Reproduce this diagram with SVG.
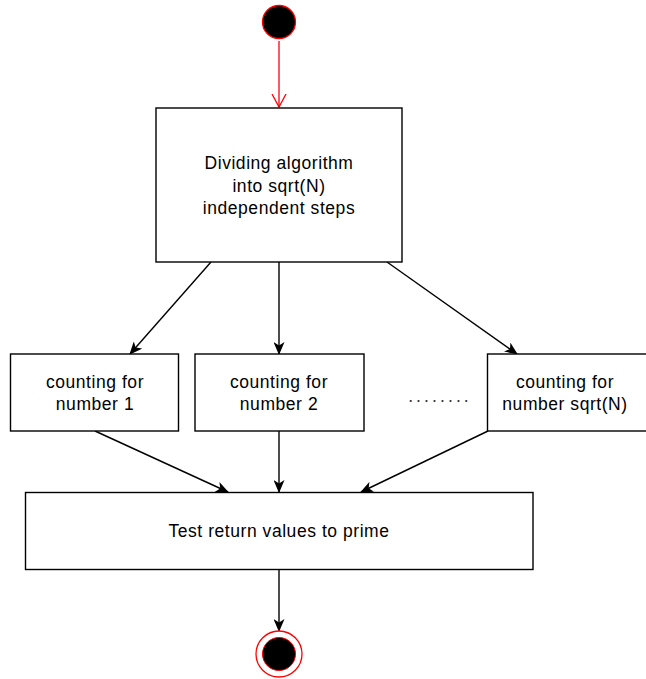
<svg xmlns="http://www.w3.org/2000/svg" width="646" height="679" viewBox="0 0 646 679">
  <defs>
    <marker id="arrow" viewBox="0 0 13 11" refX="12" refY="5.5" markerWidth="13" markerHeight="11" markerUnits="userSpaceOnUse" orient="auto">
      <path d="M0,0 L13,5.5 L0,11 L3.5,5.5 Z" fill="#000"/>
    </marker>
    <marker id="open" viewBox="0 0 14 16" refX="13" refY="8" markerWidth="14" markerHeight="16" markerUnits="userSpaceOnUse" orient="auto">
      <path d="M0,1 L13,8 L0,15" fill="none" stroke="#f00" stroke-width="1.3"/>
    </marker>
  </defs>
  <style>
    .box { fill: #fff; stroke: #000; stroke-width: 1.4; }
    .edge { fill: none; stroke: #000; stroke-width: 1.4; marker-end: url(#arrow); }
    .lbl { font-family: "Liberation Sans", Arial, Helvetica, sans-serif; font-size: 17.5px; letter-spacing: 0.55px; fill: #000; text-anchor: middle; }
    .dots { letter-spacing: 3.1px; fill: #333; }
  </style>
  <rect width="646" height="679" fill="#fff"/>

  <g id="edges">
    <path d="M279,41 L279,107" fill="none" stroke="#f00" stroke-width="1.3" marker-end="url(#open)"/>
    <path class="edge" d="M211,262 L130,354"/>
    <path class="edge" d="M279,262 L279,354"/>
    <path class="edge" d="M387,262 L517,354"/>
    <path class="edge" d="M95,431 L228,492"/>
    <path class="edge" d="M279,431 L279,492"/>
    <path class="edge" d="M488,431 L361,492"/>
    <path class="edge" d="M279,569 L279,631"/>
  </g>

  <g id="start">
    <circle cx="279" cy="22" r="16.5" fill="#000" stroke="#f00" stroke-width="1.3"/>
  </g>

  <g id="divide">
    <rect class="box" x="156" y="108" width="246" height="154"/>
    <text class="lbl" x="279" y="169">Dividing algorithm</text>
    <text class="lbl" x="279" y="192">into sqrt(N)</text>
    <text class="lbl" x="279" y="214">independent steps</text>
  </g>

  <g id="count1">
    <rect class="box" x="10.5" y="354" width="168" height="77"/>
    <text class="lbl" x="95" y="388">counting for</text>
    <text class="lbl" x="95" y="410">number 1</text>
  </g>

  <g id="count2">
    <rect class="box" x="195" y="354" width="169" height="77"/>
    <text class="lbl" x="279" y="388">counting for</text>
    <text class="lbl" x="279" y="410">number 2</text>
  </g>

  <g id="ellipsis">
    <text class="lbl dots" x="440" y="402">........</text>
  </g>

  <g id="countN">
    <rect class="box" x="487.5" y="354" width="169" height="77"/>
    <text class="lbl" x="565" y="388">counting for</text>
    <text class="lbl" x="565" y="410">number sqrt(N)</text>
  </g>

  <g id="test">
    <rect class="box" x="25.5" y="492.5" width="507.5" height="77"/>
    <text class="lbl" x="279" y="537">Test return values to prime</text>
  </g>

  <g id="end">
    <circle cx="279" cy="654" r="23" fill="#fff" stroke="#f00" stroke-width="1.3"/>
    <circle cx="279" cy="654" r="16.5" fill="#000" stroke="#f00" stroke-width="1"/>
  </g>
</svg>
